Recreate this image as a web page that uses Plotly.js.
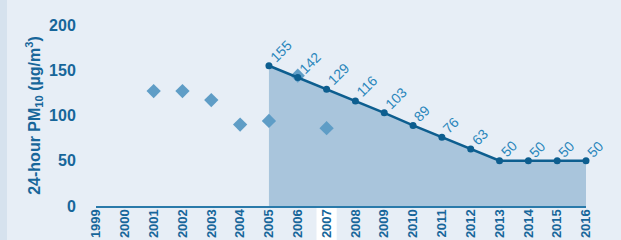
<!DOCTYPE html>
<html><head><meta charset="utf-8">
<script src="https://cdn.plot.ly/plotly-3.0.1.min.js"></script>
<style>
html,body{margin:0;padding:0;background:#d6e2ee;}
#chart{position:absolute;left:7px;top:0;width:614px;height:240px;}
</style></head>
<body><div id="chart"></div>
<script>
var years = [1999,2000,2001,2002,2003,2004,2005,2006,2007,2008,2009,2010,2011,2012,2013,2014,2015,2016];
var obsYears = [2001,2002,2003,2004,2005,2006,2007];
var obsValues = [127,127,117,90,94,144,86];
var targetYears = [2005,2006,2007,2008,2009,2010,2011,2012,2013,2014,2015,2016];
var targetValues = [155,142,129,116,103,89,76,63,50,50,50,50];
var tickLabels = years.map(String);

var FONT = '"Liberation Sans",Arial,sans-serif';
var TXT = '#17669a';

var traces = [
  {x: targetYears, y: targetValues, type:'scatter', mode:'lines', fill:'tozeroy',
   fillcolor:'#a9c5dc', line:{color:'rgba(0,0,0,0)', width:0}, hoverinfo:'skip', showlegend:false},
  {x: obsYears, y: obsValues, type:'scatter', mode:'markers',
   marker:{symbol:'diamond', size:11, color:'#5f9dc6'}, showlegend:false, cliponaxis:false},
  {x: targetYears, y: targetValues, type:'scatter', mode:'lines+markers',
   line:{color:'#0d5e8f', width:2.5}, marker:{size:7, color:'#0d5e8f'}, showlegend:false, cliponaxis:false}
];

var annotations = targetYears.map(function(yr, i){
  return {x: yr, y: targetValues[i], xref:'x', yref:'y', text: String(targetValues[i]),
    showarrow:false, textangle:-45, xanchor:'left', yanchor:'bottom', xshift:-5, yshift:-2,
    font:{family:FONT, size:14, color:'#2a86bb'}};
});

var layout = {
  width:614, height:240,
  margin:{l:89, r:35, t:25, b:34},
  paper_bgcolor:'#e7eef6', plot_bgcolor:'#e7eef6',
  font:{family:FONT, color:TXT},
  xaxis:{range:[1999,2016], tickvals: years, ticktext: tickLabels, tickangle:-90,
    showgrid:false, zeroline:false, showline:true, linecolor:'#2a7aaa', linewidth:2,
    ticks:'', ticklen:0, ticklabelstandoff:-4,
    tickfont:{family:FONT, size:13, color:TXT, weight:'bold'}, fixedrange:true, automargin:false},
  yaxis:{range:[0,200], tickvals:[0,50,100,150,200], showgrid:false, zeroline:false,
    showline:false, ticks:'outside', ticklen:16, tickcolor:'rgba(0,0,0,0)',
    tickfont:{family:FONT, size:16, color:TXT, weight:'bold'},
    title:{text:'24-hour PM<sub>10</sub> (µg/m<sup>3</sup>)', font:{family:FONT, size:16, color:TXT, weight:'bold'}, standoff:4},
    fixedrange:true, automargin:false},
  shapes:[{type:'rect', xref:'x', yref:'paper', x0:2006.65, x1:2007.35, y0:-0.2, y1:-0.01,
    fillcolor:'#ffffff', line:{width:0}, layer:'below'}],
  annotations: annotations
};
Plotly.newPlot('chart', traces, layout, {displayModeBar:false, staticPlot:true});
</script></body></html>
